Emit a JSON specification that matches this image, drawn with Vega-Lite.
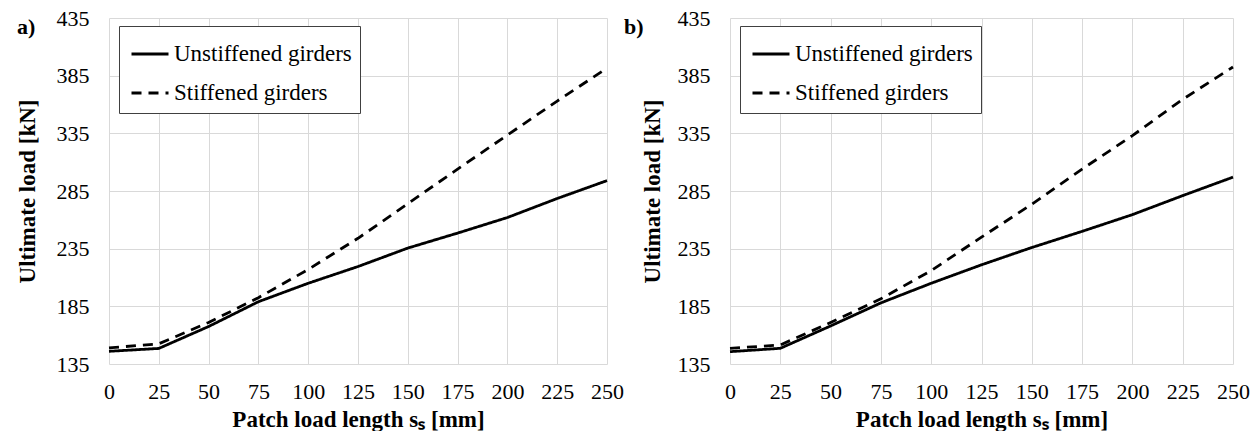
{
  "$schema": "https://vega.github.io/schema/vega-lite/v6.json",
  "padding": {"left": 16, "top": 7, "right": 0, "bottom": 0},
  "background": "white",
  "config": {
    "font": "Liberation Serif",
    "view": {"stroke": null},
    "axis": {
      "domain": false, "ticks": false, "grid": true,
      "gridColor": "#d9d9d9", "gridWidth": 1,
      "labelFont": "Liberation Serif", "labelFontSize": 22, "labelColor": "black",
      "labelFlush": false, "labelOverlap": false,
      "titleFont": "Liberation Serif", "titleFontSize": 23, "titleFontWeight": "bold", "titleColor": "black"
    },
    "legend": {
      "orient": "none", "legendX": 10, "legendY": 8,
      "strokeColor": "#404040", "fillColor": "white", "padding": 8,
      "symbolType": "stroke", "symbolSize": 1369, "symbolStrokeWidth": 2.8, "symbolStrokeColor": "black", "symbolOffset": 3,
      "labelFont": "Liberation Serif", "labelFontSize": 23, "labelColor": "black", "labelOffset": 4,
      "rowPadding": 7, "labelLimit": 400
    },
    "title": {"font": "Liberation Serif", "fontSize": 22, "fontWeight": "bold", "color": "black"}
  },
  "data": {"values": [
    {"panel": "a", "series": "Unstiffened girders", "len": 0, "load": 146},
    {"panel": "a", "series": "Unstiffened girders", "len": 25, "load": 148.5},
    {"panel": "a", "series": "Unstiffened girders", "len": 50, "load": 167.5},
    {"panel": "a", "series": "Unstiffened girders", "len": 75, "load": 189},
    {"panel": "a", "series": "Unstiffened girders", "len": 100, "load": 205},
    {"panel": "a", "series": "Unstiffened girders", "len": 125, "load": 219.5},
    {"panel": "a", "series": "Unstiffened girders", "len": 150, "load": 235.5},
    {"panel": "a", "series": "Unstiffened girders", "len": 175, "load": 248.5},
    {"panel": "a", "series": "Unstiffened girders", "len": 200, "load": 262},
    {"panel": "a", "series": "Unstiffened girders", "len": 225, "load": 278.5},
    {"panel": "a", "series": "Unstiffened girders", "len": 250, "load": 294},
    {"panel": "a", "series": "Stiffened girders", "len": 0, "load": 149},
    {"panel": "a", "series": "Stiffened girders", "len": 25, "load": 152.5},
    {"panel": "a", "series": "Stiffened girders", "len": 50, "load": 171},
    {"panel": "a", "series": "Stiffened girders", "len": 75, "load": 192.5},
    {"panel": "a", "series": "Stiffened girders", "len": 100, "load": 217},
    {"panel": "a", "series": "Stiffened girders", "len": 125, "load": 244},
    {"panel": "a", "series": "Stiffened girders", "len": 150, "load": 274},
    {"panel": "a", "series": "Stiffened girders", "len": 175, "load": 304},
    {"panel": "a", "series": "Stiffened girders", "len": 200, "load": 333.5},
    {"panel": "a", "series": "Stiffened girders", "len": 225, "load": 363},
    {"panel": "a", "series": "Stiffened girders", "len": 250, "load": 391.5},
    {"panel": "b", "series": "Unstiffened girders", "len": 0, "load": 145.7},
    {"panel": "b", "series": "Unstiffened girders", "len": 25, "load": 148.6},
    {"panel": "b", "series": "Unstiffened girders", "len": 50, "load": 168},
    {"panel": "b", "series": "Unstiffened girders", "len": 75, "load": 188},
    {"panel": "b", "series": "Unstiffened girders", "len": 100, "load": 205},
    {"panel": "b", "series": "Unstiffened girders", "len": 125, "load": 221},
    {"panel": "b", "series": "Unstiffened girders", "len": 150, "load": 236},
    {"panel": "b", "series": "Unstiffened girders", "len": 175, "load": 250},
    {"panel": "b", "series": "Unstiffened girders", "len": 200, "load": 264.5},
    {"panel": "b", "series": "Unstiffened girders", "len": 225, "load": 281},
    {"panel": "b", "series": "Unstiffened girders", "len": 250, "load": 297},
    {"panel": "b", "series": "Stiffened girders", "len": 0, "load": 148.6},
    {"panel": "b", "series": "Stiffened girders", "len": 25, "load": 151.5},
    {"panel": "b", "series": "Stiffened girders", "len": 50, "load": 171},
    {"panel": "b", "series": "Stiffened girders", "len": 75, "load": 191.5},
    {"panel": "b", "series": "Stiffened girders", "len": 100, "load": 216},
    {"panel": "b", "series": "Stiffened girders", "len": 125, "load": 245},
    {"panel": "b", "series": "Stiffened girders", "len": 150, "load": 273.5},
    {"panel": "b", "series": "Stiffened girders", "len": 175, "load": 304},
    {"panel": "b", "series": "Stiffened girders", "len": 200, "load": 333},
    {"panel": "b", "series": "Stiffened girders", "len": 225, "load": 364.5},
    {"panel": "b", "series": "Stiffened girders", "len": 250, "load": 392.5}
  ]},
  "spacing": 0,
  "hconcat": [
    {
      "width": 498, "height": 346,
      "title": {"text": "a)", "anchor": "start", "frame": "group", "orient": "top", "offset": 0, "dx": -92, "dy": 32},
      "transform": [{"filter": "datum.panel === 'a'"}],
      "mark": {"type": "line", "strokeWidth": 2.8, "color": "black"},
      "encoding": {
        "x": {"field": "len", "type": "quantitative", "scale": {"domain": [0, 250], "nice": false},
              "axis": {"values": [0, 25, 50, 75, 100, 125, 150, 175, 200, 225, 250], "title": "Patch load length sₛ [mm]", "labelPadding": 17, "titlePadding": 6}},
        "y": {"field": "load", "type": "quantitative", "scale": {"domain": [135, 435], "zero": false, "nice": false},
              "axis": {"values": [135, 185, 235, 285, 335, 385, 435], "title": "Ultimate load [kN]", "labelPadding": 20, "titlePadding": 17}},
        "strokeDash": {"field": "series", "type": "nominal",
              "scale": {"domain": ["Unstiffened girders", "Stiffened girders"], "range": [[1, 0], [10, 7]]},
              "legend": {"title": null}}
      }
    },
    {
      "width": 503, "height": 346,
      "title": {"text": "b)", "anchor": "start", "frame": "group", "orient": "top", "offset": 0, "dx": -106, "dy": 32},
      "transform": [{"filter": "datum.panel === 'b'"}],
      "mark": {"type": "line", "strokeWidth": 2.8, "color": "black"},
      "encoding": {
        "x": {"field": "len", "type": "quantitative", "scale": {"domain": [0, 250], "nice": false},
              "axis": {"values": [0, 25, 50, 75, 100, 125, 150, 175, 200, 225, 250], "title": "Patch load length sₛ [mm]", "labelPadding": 17, "titlePadding": 6}},
        "y": {"field": "load", "type": "quantitative", "scale": {"domain": [135, 435], "zero": false, "nice": false},
              "axis": {"values": [135, 185, 235, 285, 335, 385, 435], "title": "Ultimate load [kN]", "labelPadding": 20, "titlePadding": 13}},
        "strokeDash": {"field": "series", "type": "nominal",
              "scale": {"domain": ["Unstiffened girders", "Stiffened girders"], "range": [[1, 0], [10, 7]]},
              "legend": {"title": null}}
      }
    }
  ],
  "resolve": {"scale": {"strokeDash": "independent"}, "legend": {"strokeDash": "independent"}}
}
